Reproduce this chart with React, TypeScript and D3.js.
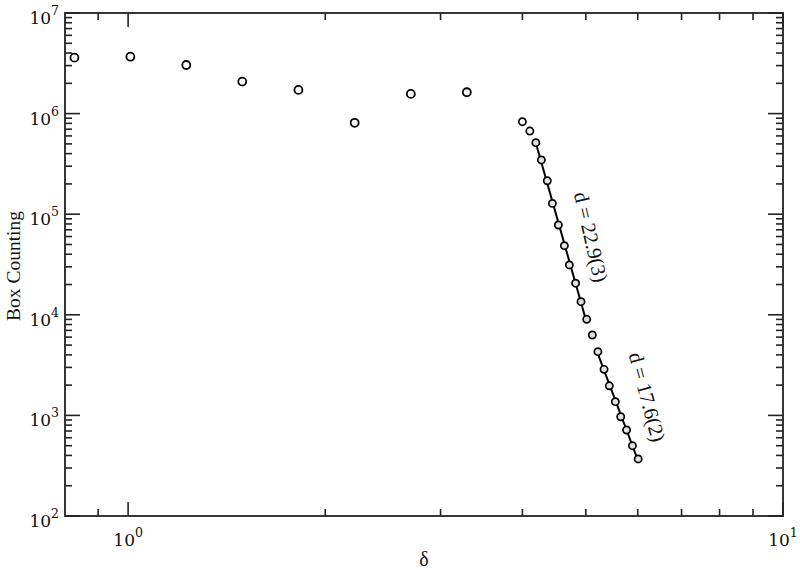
import React from "react";
import * as d3 from "d3";

const deltaCoarse = [0.828, 1.008, 1.227, 1.494, 1.82, 2.218, 2.702, 3.29];
const countCoarse = [3.6e6, 3.68e6, 3.04e6, 2.08e6, 1.72e6, 8.1e5, 1.57e6, 1.63e6];
const deltaFine = [4.0, 4.106, 4.194, 4.276, 4.366, 4.445, 4.539, 4.636, 4.718, 4.823, 4.916, 5.015, 5.115, 5.216, 5.33, 5.43, 5.546, 5.652, 5.77, 5.89, 6.01];
const countFine = [8.31e5, 6.71e5, 5.14e5, 3.46e5, 2.15e5, 1.28e5, 7.81e4, 4.87e4, 3.13e4, 2.06e4, 1.35e4, 9.02e3, 6.3e3, 4.3e3, 2.87e3, 1.97e3, 1.37e3, 9.7e2, 7.16e2, 5.0e2, 3.69e2];
const fitRanges = [[2, 11], [13, 20]];
const fitLabels = ["d = 22.9(3)", "d = 17.6(2)"];
const fitLabelPos = [[5.09, 5.93e4], [6.2, 1525]];
const fitLabelAngle = [77, 75];
const xMajor = [1, 10];
const xMajorExp = ["0", "1"];
const yMajor = [1e2, 1e3, 1e4, 1e5, 1e6, 1e7];
const yMajorExp = ["2", "3", "4", "5", "6", "7"];

const W = 800, H = 570;
const L = 65, R = 783, T = 13, B = 516;

export default function App() {
  const x = d3.scaleLog().domain([0.801, 10]).range([L, R]);
  const y = d3.scaleLog().domain([1e2, 1e7]).range([B, T]);

  const xMinor: number[] = [];
  [0.1, 1].forEach((d) => { for (let k = 2; k <= 9; k++) { const v = d * k; if (v > 0.801 && v < 10) xMinor.push(v); } });
  const yMinor: number[] = [];
  [1e2, 1e3, 1e4, 1e5, 1e6].forEach((d) => { for (let k = 2; k <= 9; k++) yMinor.push(d * k); });

  const axisColor = "#222";
  const tickW = 1.6;
  const serif = "'DejaVu Serif', serif";
  const labelFont = "'Liberation Serif', serif";

  const fits = fitRanges.map(([a, b]) => {
    const xs = deltaFine.slice(a, b + 1).map(Math.log10);
    const ys = countFine.slice(a, b + 1).map(Math.log10);
    const mx = d3.mean(xs)!, my = d3.mean(ys)!;
    let num = 0, den = 0;
    xs.forEach((v, i) => { num += (v - mx) * (ys[i] - my); den += (v - mx) * (v - mx); });
    const s = num / den;
    const f = (lx: number) => Math.pow(10, my + s * (lx - mx));
    const x0 = deltaFine[a], x1 = deltaFine[b];
    return [[x0, f(Math.log10(x0))], [x1, f(Math.log10(x1))]] as [number, number][];
  });
  const line = d3.line<[number, number]>().x((d) => x(d[0])).y((d) => y(d[1]));

  return (
    <svg width={W} height={H} style={{ position: "absolute", left: 0, top: 0, background: "#fff" }}>
      <rect x={0} y={0} width={W} height={H} fill="#fff" />
      <g stroke={axisColor} strokeWidth={tickW}>
        {xMajor.map((v, i) => (
          <g key={"xm" + i}>
            <line x1={x(v)} x2={x(v)} y1={B} y2={B - 14} />
            <line x1={x(v)} x2={x(v)} y1={T} y2={T + 14} />
          </g>
        ))}
        {xMinor.map((v, i) => (
          <g key={"xn" + i}>
            <line x1={x(v)} x2={x(v)} y1={B} y2={B - 7} />
            <line x1={x(v)} x2={x(v)} y1={T} y2={T + 7} />
          </g>
        ))}
        {yMajor.map((v, i) => (
          <g key={"ym" + i}>
            <line x1={L} x2={L + 15} y1={y(v)} y2={y(v)} />
            <line x1={R} x2={R - 15} y1={y(v)} y2={y(v)} />
          </g>
        ))}
        {yMinor.map((v, i) => (
          <g key={"yn" + i}>
            <line x1={L} x2={L + 7} y1={y(v)} y2={y(v)} />
            <line x1={R} x2={R - 7} y1={y(v)} y2={y(v)} />
          </g>
        ))}
      </g>
      <rect x={L} y={T} width={R - L} height={B - T} fill="none" stroke={axisColor} strokeWidth={1.8} />
      {xMajor.map((v, i) => (
        <text key={"xl" + i} x={x(v)} y={B + 30} textAnchor="middle" fontFamily={serif} fontSize={17} fill="#111">
          10<tspan dy={-9} fontSize={12.5}>{xMajorExp[i]}</tspan>
        </text>
      ))}
      {yMajor.map((v, i) => (
        <text key={"yl" + i} x={L - 6} y={y(v) + 11} textAnchor="end" fontFamily={serif} fontSize={17} fill="#111">
          10<tspan dy={-9} fontSize={12.5}>{yMajorExp[i]}</tspan>
        </text>
      ))}
      <text x={424} y={566} textAnchor="middle" fontFamily={labelFont} fontSize={20} fill="#111">δ</text>
      <text transform={`translate(20,266) rotate(-90)`} textAnchor="middle" fontFamily={labelFont} fontSize={19.5} fill="#111">Box Counting</text>
      {fits.map((f, i) => (
        <path key={"fit" + i} d={line(f)!} fill="none" stroke="#000" strokeWidth={2} />
      ))}
      {deltaCoarse.map((d, i) => (
        <circle key={"c" + i} cx={x(d)} cy={y(countCoarse[i])} r={4} fill="#fff" stroke="#000" strokeWidth={1.8} />
      ))}
      {deltaFine.map((d, i) => (
        <circle key={"f" + i} cx={x(d)} cy={y(countFine[i])} r={3.6} fill={i < 2 ? "#fff" : "#e2e2e2"} stroke="#000" strokeWidth={1.7} />
      ))}
      {fitLabels.map((t, i) => (
        <text key={"fl" + i} transform={`translate(${x(fitLabelPos[i][0])},${y(fitLabelPos[i][1])}) rotate(${fitLabelAngle[i]})`} textAnchor="middle" dominantBaseline="central" fontFamily={labelFont} fontSize={20.5} fill="#111">{t}</text>
      ))}
    </svg>
  );
}
